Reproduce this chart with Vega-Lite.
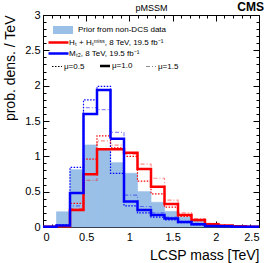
{
  "$schema": "https://vega.github.io/schema/vega-lite/v6.json",
  "width": 216,
  "height": 212,
  "autosize": {"type": "none"},
  "padding": {"left": 43, "top": 15, "right": 15, "bottom": 36},
  "background": "white",
  "title": {"text": "CMS", "anchor": "end", "fontSize": 12, "fontWeight": "bold", "font": "Liberation Sans", "color": "black", "offset": -10},
  "config": {
    "view": {"stroke": null},
    "font": "Liberation Sans",
    "axis": {
      "domainColor": "black", "tickColor": "black", "grid": false,
      "labelFont": "Liberation Sans", "labelFontSize": 11, "labelColor": "black",
      "titleFont": "Liberation Sans", "titleFontSize": 14, "titleFontWeight": "normal", "titleColor": "black",
      "labelOverlap": false, "domainWidth": 1, "tickWidth": 1
    },
    "legend": {"labelFont": "Liberation Sans", "labelFontSize": 8, "labelColor": "black", "padding": 0}
  },
  "datasets": {
    "prior": [
      {"lo": 0, "hi": 0.15625, "value": 0.01, "name": "Prior from non-DCS data"},
      {"lo": 0.15625, "hi": 0.3125, "value": 0.215, "name": "Prior from non-DCS data"},
      {"lo": 0.3125, "hi": 0.46875, "value": 0.81, "name": "Prior from non-DCS data"},
      {"lo": 0.46875, "hi": 0.625, "value": 1.16, "name": "Prior from non-DCS data"},
      {"lo": 0.625, "hi": 0.78125, "value": 1.11, "name": "Prior from non-DCS data"},
      {"lo": 0.78125, "hi": 0.9375, "value": 0.91, "name": "Prior from non-DCS data"},
      {"lo": 0.9375, "hi": 1.09375, "value": 0.76, "name": "Prior from non-DCS data"},
      {"lo": 1.09375, "hi": 1.25, "value": 0.5, "name": "Prior from non-DCS data"},
      {"lo": 1.25, "hi": 1.40625, "value": 0.35, "name": "Prior from non-DCS data"},
      {"lo": 1.40625, "hi": 1.5625, "value": 0.22, "name": "Prior from non-DCS data"},
      {"lo": 1.5625, "hi": 1.71875, "value": 0.14, "name": "Prior from non-DCS data"},
      {"lo": 1.71875, "hi": 1.875, "value": 0.09, "name": "Prior from non-DCS data"},
      {"lo": 1.875, "hi": 2.03125, "value": 0.04, "name": "Prior from non-DCS data"},
      {"lo": 2.03125, "hi": 2.1875, "value": 0.02, "name": "Prior from non-DCS data"},
      {"lo": 2.1875, "hi": 2.34375, "value": 0.01, "name": "Prior from non-DCS data"},
      {"lo": 2.34375, "hi": 2.5, "value": 0.005, "name": "Prior from non-DCS data"}
    ],
    "lines": [
      {"analysis": "HT", "mu": "μ=0.5", "x": 0, "y": 0.002},
      {"analysis": "HT", "mu": "μ=0.5", "x": 0.15625, "y": 0.015},
      {"analysis": "HT", "mu": "μ=0.5", "x": 0.3125, "y": 0.335},
      {"analysis": "HT", "mu": "μ=0.5", "x": 0.46875, "y": 0.96},
      {"analysis": "HT", "mu": "μ=0.5", "x": 0.625, "y": 1.29},
      {"analysis": "HT", "mu": "μ=0.5", "x": 0.78125, "y": 1.12},
      {"analysis": "HT", "mu": "μ=0.5", "x": 0.9375, "y": 1.0},
      {"analysis": "HT", "mu": "μ=0.5", "x": 1.09375, "y": 0.65},
      {"analysis": "HT", "mu": "μ=0.5", "x": 1.25, "y": 0.47},
      {"analysis": "HT", "mu": "μ=0.5", "x": 1.40625, "y": 0.28},
      {"analysis": "HT", "mu": "μ=0.5", "x": 1.5625, "y": 0.15},
      {"analysis": "HT", "mu": "μ=0.5", "x": 1.71875, "y": 0.09},
      {"analysis": "HT", "mu": "μ=0.5", "x": 1.875, "y": 0.035},
      {"analysis": "HT", "mu": "μ=0.5", "x": 2.03125, "y": 0.015},
      {"analysis": "HT", "mu": "μ=0.5", "x": 2.1875, "y": 0.008},
      {"analysis": "HT", "mu": "μ=0.5", "x": 2.34375, "y": 0.004},
      {"analysis": "HT", "mu": "μ=0.5", "x": 2.5, "y": 0.004},
      {"analysis": "MT2", "mu": "μ=0.5", "x": 0, "y": 0.005},
      {"analysis": "MT2", "mu": "μ=0.5", "x": 0.15625, "y": 0.03},
      {"analysis": "MT2", "mu": "μ=0.5", "x": 0.3125, "y": 0.845},
      {"analysis": "MT2", "mu": "μ=0.5", "x": 0.46875, "y": 1.8},
      {"analysis": "MT2", "mu": "μ=0.5", "x": 0.625, "y": 1.99},
      {"analysis": "MT2", "mu": "μ=0.5", "x": 0.78125, "y": 0.76},
      {"analysis": "MT2", "mu": "μ=0.5", "x": 0.9375, "y": 0.3},
      {"analysis": "MT2", "mu": "μ=0.5", "x": 1.09375, "y": 0.2},
      {"analysis": "MT2", "mu": "μ=0.5", "x": 1.25, "y": 0.14},
      {"analysis": "MT2", "mu": "μ=0.5", "x": 1.40625, "y": 0.1},
      {"analysis": "MT2", "mu": "μ=0.5", "x": 1.5625, "y": 0.06},
      {"analysis": "MT2", "mu": "μ=0.5", "x": 1.71875, "y": 0.03},
      {"analysis": "MT2", "mu": "μ=0.5", "x": 1.875, "y": 0.012},
      {"analysis": "MT2", "mu": "μ=0.5", "x": 2.03125, "y": 0.008},
      {"analysis": "MT2", "mu": "μ=0.5", "x": 2.1875, "y": 0.004},
      {"analysis": "MT2", "mu": "μ=0.5", "x": 2.34375, "y": 0.002},
      {"analysis": "MT2", "mu": "μ=0.5", "x": 2.5, "y": 0.002},
      {"analysis": "HT", "mu": "μ=1.5", "x": 0, "y": 0.001},
      {"analysis": "HT", "mu": "μ=1.5", "x": 0.15625, "y": 0.008},
      {"analysis": "HT", "mu": "μ=1.5", "x": 0.3125, "y": 0.26},
      {"analysis": "HT", "mu": "μ=1.5", "x": 0.46875, "y": 0.66},
      {"analysis": "HT", "mu": "μ=1.5", "x": 0.625, "y": 1.22},
      {"analysis": "HT", "mu": "μ=1.5", "x": 0.78125, "y": 1.16},
      {"analysis": "HT", "mu": "μ=1.5", "x": 0.9375, "y": 1.03},
      {"analysis": "HT", "mu": "μ=1.5", "x": 1.09375, "y": 0.89},
      {"analysis": "HT", "mu": "μ=1.5", "x": 1.25, "y": 0.69},
      {"analysis": "HT", "mu": "μ=1.5", "x": 1.40625, "y": 0.38},
      {"analysis": "HT", "mu": "μ=1.5", "x": 1.5625, "y": 0.2},
      {"analysis": "HT", "mu": "μ=1.5", "x": 1.71875, "y": 0.12},
      {"analysis": "HT", "mu": "μ=1.5", "x": 1.875, "y": 0.05},
      {"analysis": "HT", "mu": "μ=1.5", "x": 2.03125, "y": 0.025},
      {"analysis": "HT", "mu": "μ=1.5", "x": 2.1875, "y": 0.012},
      {"analysis": "HT", "mu": "μ=1.5", "x": 2.34375, "y": 0.006},
      {"analysis": "HT", "mu": "μ=1.5", "x": 2.5, "y": 0.006},
      {"analysis": "MT2", "mu": "μ=1.5", "x": 0, "y": 0.003},
      {"analysis": "MT2", "mu": "μ=1.5", "x": 0.15625, "y": 0.015},
      {"analysis": "MT2", "mu": "μ=1.5", "x": 0.3125, "y": 0.3},
      {"analysis": "MT2", "mu": "μ=1.5", "x": 0.46875, "y": 1.69},
      {"analysis": "MT2", "mu": "μ=1.5", "x": 0.625, "y": 1.66},
      {"analysis": "MT2", "mu": "μ=1.5", "x": 0.78125, "y": 1.34},
      {"analysis": "MT2", "mu": "μ=1.5", "x": 0.9375, "y": 0.45},
      {"analysis": "MT2", "mu": "μ=1.5", "x": 1.09375, "y": 0.29},
      {"analysis": "MT2", "mu": "μ=1.5", "x": 1.25, "y": 0.2},
      {"analysis": "MT2", "mu": "μ=1.5", "x": 1.40625, "y": 0.14},
      {"analysis": "MT2", "mu": "μ=1.5", "x": 1.5625, "y": 0.08},
      {"analysis": "MT2", "mu": "μ=1.5", "x": 1.71875, "y": 0.05},
      {"analysis": "MT2", "mu": "μ=1.5", "x": 1.875, "y": 0.02},
      {"analysis": "MT2", "mu": "μ=1.5", "x": 2.03125, "y": 0.01},
      {"analysis": "MT2", "mu": "μ=1.5", "x": 2.1875, "y": 0.005},
      {"analysis": "MT2", "mu": "μ=1.5", "x": 2.34375, "y": 0.003},
      {"analysis": "MT2", "mu": "μ=1.5", "x": 2.5, "y": 0.003},
      {"analysis": "HT", "mu": "μ=1.0", "x": 0, "y": 0.002},
      {"analysis": "HT", "mu": "μ=1.0", "x": 0.15625, "y": 0.01},
      {"analysis": "HT", "mu": "μ=1.0", "x": 0.3125, "y": 0.24},
      {"analysis": "HT", "mu": "μ=1.0", "x": 0.46875, "y": 0.745},
      {"analysis": "HT", "mu": "μ=1.0", "x": 0.625, "y": 1.1},
      {"analysis": "HT", "mu": "μ=1.0", "x": 0.78125, "y": 1.1},
      {"analysis": "HT", "mu": "μ=1.0", "x": 0.9375, "y": 1.05},
      {"analysis": "HT", "mu": "μ=1.0", "x": 1.09375, "y": 0.82},
      {"analysis": "HT", "mu": "μ=1.0", "x": 1.25, "y": 0.57},
      {"analysis": "HT", "mu": "μ=1.0", "x": 1.40625, "y": 0.325},
      {"analysis": "HT", "mu": "μ=1.0", "x": 1.5625, "y": 0.17},
      {"analysis": "HT", "mu": "μ=1.0", "x": 1.71875, "y": 0.1},
      {"analysis": "HT", "mu": "μ=1.0", "x": 1.875, "y": 0.04},
      {"analysis": "HT", "mu": "μ=1.0", "x": 2.03125, "y": 0.02},
      {"analysis": "HT", "mu": "μ=1.0", "x": 2.1875, "y": 0.01},
      {"analysis": "HT", "mu": "μ=1.0", "x": 2.34375, "y": 0.005},
      {"analysis": "HT", "mu": "μ=1.0", "x": 2.5, "y": 0.005},
      {"analysis": "MT2", "mu": "μ=1.0", "x": 0, "y": 0.005},
      {"analysis": "MT2", "mu": "μ=1.0", "x": 0.15625, "y": 0.02},
      {"analysis": "MT2", "mu": "μ=1.0", "x": 0.3125, "y": 0.48},
      {"analysis": "MT2", "mu": "μ=1.0", "x": 0.46875, "y": 1.6},
      {"analysis": "MT2", "mu": "μ=1.0", "x": 0.625, "y": 1.94},
      {"analysis": "MT2", "mu": "μ=1.0", "x": 0.78125, "y": 1.25},
      {"analysis": "MT2", "mu": "μ=1.0", "x": 0.9375, "y": 0.36},
      {"analysis": "MT2", "mu": "μ=1.0", "x": 1.09375, "y": 0.24},
      {"analysis": "MT2", "mu": "μ=1.0", "x": 1.25, "y": 0.17},
      {"analysis": "MT2", "mu": "μ=1.0", "x": 1.40625, "y": 0.12},
      {"analysis": "MT2", "mu": "μ=1.0", "x": 1.5625, "y": 0.07},
      {"analysis": "MT2", "mu": "μ=1.0", "x": 1.71875, "y": 0.04},
      {"analysis": "MT2", "mu": "μ=1.0", "x": 1.875, "y": 0.015},
      {"analysis": "MT2", "mu": "μ=1.0", "x": 2.03125, "y": 0.01},
      {"analysis": "MT2", "mu": "μ=1.0", "x": 2.1875, "y": 0.005},
      {"analysis": "MT2", "mu": "μ=1.0", "x": 2.34375, "y": 0.003},
      {"analysis": "MT2", "mu": "μ=1.0", "x": 2.5, "y": 0.003}
    ]
  },
  "layer": [
    {
      "data": {"name": "prior"},
      "mark": {"type": "rect", "fill": "#9ac0e8", "stroke": "#9ac0e8", "strokeWidth": 0.7},
      "encoding": {
        "x": {
          "field": "lo", "type": "quantitative",
          "scale": {"domain": [0, 2.5], "nice": false, "zero": false},
          "axis": {
            "orient": "bottom",
            "values": [0, 0.1, 0.2, 0.3, 0.4, 0.5, 0.6, 0.7, 0.8, 0.9, 1, 1.1, 1.2, 1.3, 1.4, 1.5, 1.6, 1.7, 1.8, 1.9, 2, 2.1, 2.2, 2.3, 2.4, 2.5],
            "format": "~g",
            "labelExpr": "abs(datum.value*2-round(datum.value*2))<0.001 ? datum.label : ''",
            "tickSize": {"condition": {"test": "abs(datum.value*2-round(datum.value*2))<0.001", "value": -6}, "value": -3},
            "labelPadding": 10,
            "title": "LCSP mass [TeV]",
            "titleAnchor": "end",
            "titlePadding": 3
          }
        },
        "x2": {"field": "hi"},
        "y": {
          "field": "value", "type": "quantitative",
          "scale": {"domain": [0, 3], "nice": false},
          "axis": {
            "orient": "left",
            "values": [0, 0.1, 0.2, 0.3, 0.4, 0.5, 0.6, 0.7, 0.8, 0.9, 1, 1.1, 1.2, 1.3, 1.4, 1.5, 1.6, 1.7, 1.8, 1.9, 2, 2.1, 2.2, 2.3, 2.4, 2.5, 2.6, 2.7, 2.8, 2.9, 3],
            "format": "~g",
            "labelExpr": "abs(datum.value*2-round(datum.value*2))<0.001 ? datum.label : ''",
            "tickSize": {"condition": {"test": "abs(datum.value*2-round(datum.value*2))<0.001", "value": -6}, "value": -3},
            "labelPadding": 9,
            "title": "prob. dens. / TeV",
            "titleAnchor": "end",
            "titlePadding": 7
          }
        },
        "y2": {"datum": 0},
        "fill": {
          "field": "name", "type": "nominal",
          "scale": {"range": ["#9ac0e8"]},
          "legend": {
            "orient": "none", "legendX": 10, "legendY": 5, "title": null,
            "symbolType": "M-1,-0.4H1V0.4H-1Z", "symbolSize": 400,
            "symbolStrokeWidth": 0, "labelOffset": 5
          }
        }
      }
    },
    {
      "data": {"name": "lines"},
      "encoding": {
        "x": {
          "field": "x", "type": "quantitative",
          "scale": {"domain": [0, 2.5], "nice": false, "zero": false},
          "axis": {
            "orient": "top",
            "values": [0, 0.1, 0.2, 0.3, 0.4, 0.5, 0.6, 0.7, 0.8, 0.9, 1, 1.1, 1.2, 1.3, 1.4, 1.5, 1.6, 1.7, 1.8, 1.9, 2, 2.1, 2.2, 2.3, 2.4, 2.5],
            "labels": false,
            "tickSize": {"condition": {"test": "abs(datum.value*2-round(datum.value*2))<0.001", "value": -6}, "value": -3},
            "title": "pMSSM",
            "titleFontSize": 9,
            "titlePadding": 2
          }
        },
        "y": {
          "field": "y", "type": "quantitative",
          "scale": {"domain": [0, 3], "nice": false},
          "axis": {
            "orient": "right",
            "values": [0, 0.1, 0.2, 0.3, 0.4, 0.5, 0.6, 0.7, 0.8, 0.9, 1, 1.1, 1.2, 1.3, 1.4, 1.5, 1.6, 1.7, 1.8, 1.9, 2, 2.1, 2.2, 2.3, 2.4, 2.5, 2.6, 2.7, 2.8, 2.9, 3],
            "labels": false,
            "tickSize": {"condition": {"test": "abs(datum.value*2-round(datum.value*2))<0.001", "value": -6}, "value": -3},
            "title": null
          }
        },
        "stroke": {
          "field": "analysis", "type": "nominal",
          "scale": {"domain": ["HT", "MT2"], "range": ["#ff0000", "#0000ff"]},
          "legend": {
            "orient": "none", "legendX": 10, "legendY": 22, "title": null,
            "symbolType": "M-2.5,0H2.5", "symbolSize": 64, "symbolStrokeWidth": 2.5,
            "rowPadding": 0, "labelOffset": 5,
            "labelExpr": "datum.value == 'HT' ? 'Hₜ + Hₜᵐⁱˢˢ, 8 TeV, 19.5 fb⁻¹' : 'Mₜ₂, 8 TeV, 19.5 fb⁻¹'"
          }
        },
        "strokeDash": {
          "field": "mu", "type": "nominal",
          "scale": {"domain": ["μ=0.5", "μ=1.0", "μ=1.5"], "range": [[1.5, 1.5], [1, 0], [4, 2, 1, 2]]},
          "legend": {
            "orient": "none", "legendX": 10, "legendY": 47, "title": null,
            "direction": "horizontal",
            "symbolType": "stroke", "symbolSize": 100, "symbolStrokeColor": "black",
            "columnPadding": 10, "labelOffset": 3,
            "encode": {"symbols": {"update": {
              "strokeWidth": {"signal": "datum.value === 'μ=1.0' ? 2.5 : 1.2"},
              "opacity": {"signal": "datum.value === 'μ=1.5' ? 0.45 : 1"}
            }}}
          }
        }
      },
      "layer": [
        {
          "transform": [{"filter": "datum.mu === 'μ=0.5'"}],
          "mark": {"type": "line", "interpolate": "step-after", "strokeWidth": 1.2}
        },
        {
          "transform": [{"filter": "datum.mu === 'μ=1.5'"}],
          "mark": {"type": "line", "interpolate": "step-after", "strokeWidth": 1.2, "strokeOpacity": 0.45}
        },
        {
          "transform": [{"filter": "datum.mu === 'μ=1.0'"}],
          "mark": {"type": "line", "interpolate": "step-after", "strokeWidth": 2.5}
        }
      ]
    }
  ],
  "resolve": {"axis": {"x": "independent", "y": "independent"}}
}
